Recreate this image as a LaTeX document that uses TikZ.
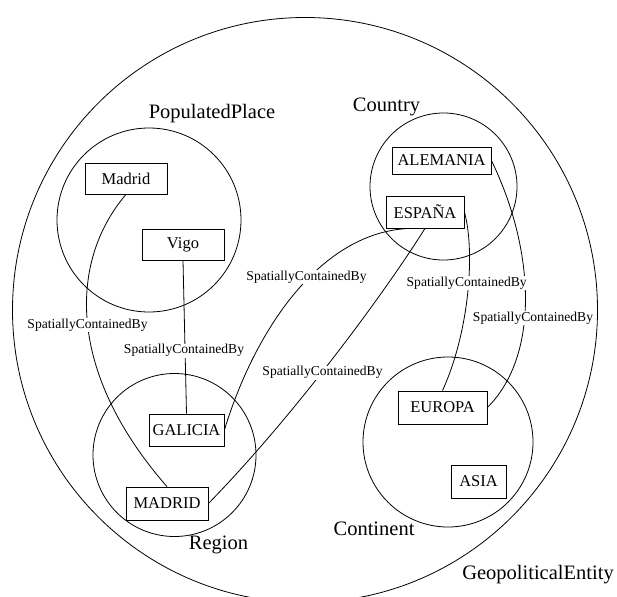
\documentclass[tikz,border=0pt]{standalone}
\usepackage{fontspec}
\setmainfont{Liberation Serif}
\begin{document}
\begin{tikzpicture}[x=1pt,y=-1pt, line width=0.8pt,
  box/.style={draw, fill=white, inner sep=0pt, minimum height=31pt, font=\fontsize{16.5}{18}\selectfont},
  lbl/.style={fill=white, inner sep=1pt, font=\fontsize{13.6}{15}\selectfont},
  setname/.style={inner sep=0pt, font=\fontsize{20.5}{23}\selectfont},
  setc/.style={draw, circle, inner sep=0pt}]
\useasboundingbox (0,0) rectangle (617,596);
\begin{scope}
  \clip (0,0) rectangle (617,596);
  \node[setc, minimum size=585pt] (geo) at (305,310) {};
\end{scope}
% inner sets
\node[setc, minimum size=184pt] (pp) at (149,220) {};
\node[setc, minimum size=147pt] (co) at (443.5,186.5) {};
\node[setc, minimum size=163pt] (re) at (174.5,455) {};
\node[setc, minimum size=170pt] (ct) at (448,442) {};
% set names
\node[setname] (nPP) at (212,114) {PopulatedPlace};
\node[setname] (nCO) at (386.5,106.5) {Country};
\node[setname] (nRE) at (218.5,545) {Region};
\node[setname] (nCT) at (374,529) {Continent};
\node[setname] (nGE) at (538,574.5) {GeopoliticalEntity};
% instances
\node[box, minimum width=82pt] (md) at (126,178.5) {Madrid};
\node[box, minimum width=82pt] (vi) at (183,244.5) {Vigo};
\node[box, minimum width=75pt, minimum height=32pt] (ga) at (186.5,430) {GALICIA};
\node[box, minimum width=82pt, minimum height=33pt] (ma) at (167,503.5) {MADRID};
\node[box, minimum width=78pt, minimum height=32pt] (es) at (425,212) {ESPAÑA};
\node[box, minimum width=99pt, minimum height=27pt] (al) at (441.5,160.5) {ALEMANIA};
\node[box, minimum width=89pt, minimum height=33pt] (eu) at (442.5,407.5) {EUROPA};
\node[box, minimum width=55pt, minimum height=33pt] (as) at (478.5,481.5) {ASIA};
% connectors
\draw (md.south) .. controls (70,260) and (65,370) .. (ma.north);
\draw (vi.south) -- (ga.north);
\draw (es.227) .. controls (320,232) and (255,330) .. (ga.east);
\draw (es.south) .. controls (380,300) and (290,420) .. (ma.east);
\draw (es.east) .. controls (475,250) and (470,330) .. (eu.north);
\draw (al.east) .. controls (535,250) and (540,355) .. (eu.east);
% connector labels
\node[lbl] (l1) at (87.5,325) {SpatiallyContainedBy};
\node[lbl] (l2) at (184,350.7) {SpatiallyContainedBy};
\node[lbl] (l3) at (306.5,277) {SpatiallyContainedBy};
\node[lbl] (l4) at (322.5,372.7) {SpatiallyContainedBy};
\node[lbl] (l5) at (466.7,283.3) {SpatiallyContainedBy};
\node[lbl] (l6) at (533,318.3) {SpatiallyContainedBy};
\end{tikzpicture}
\end{document}
